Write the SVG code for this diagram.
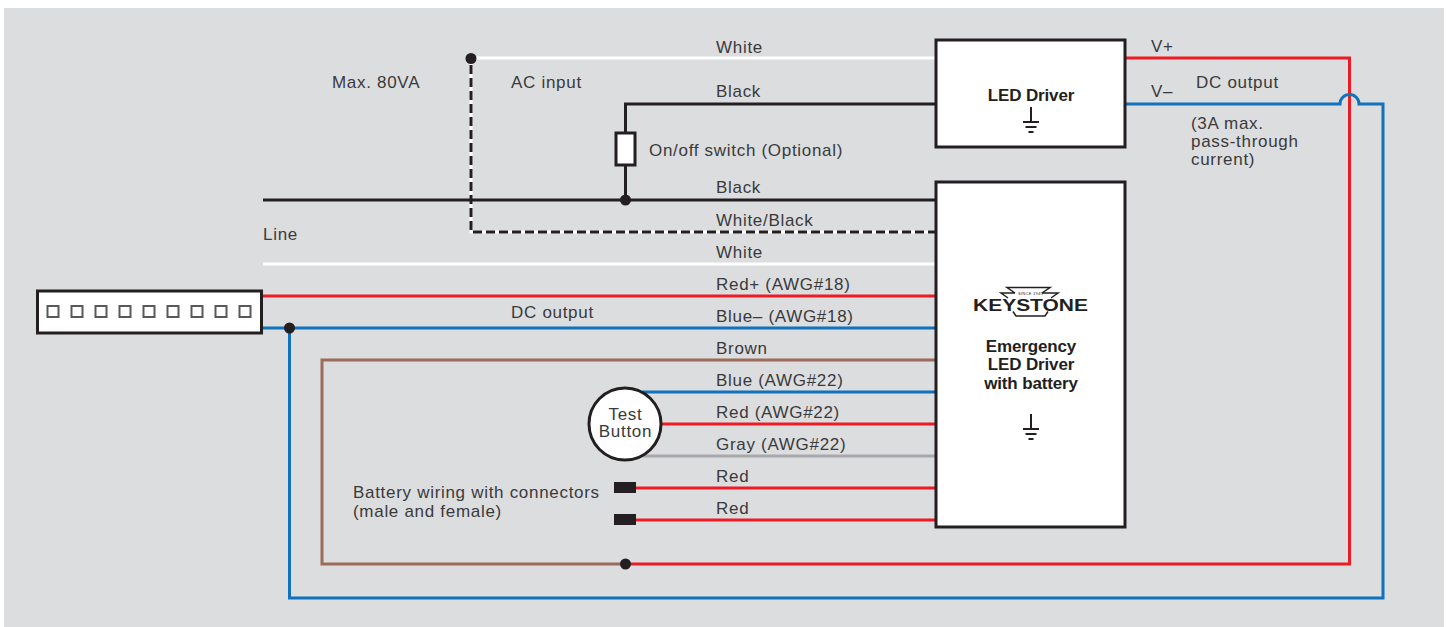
<svg xmlns="http://www.w3.org/2000/svg" width="1447" height="627" viewBox="0 0 1447 627">
<style>
text{font-family:"Liberation Sans",Arial,sans-serif;font-size:17px;fill:#3a3a3c;letter-spacing:.7px}
.b{font-weight:bold;fill:#231f20;letter-spacing:-.15px}
.m{text-anchor:middle}
.w{fill:none;stroke-width:3}
.blk{stroke:#231f20}.wht{stroke:#fff}.red{stroke:#ed1c24}.blu{stroke:#0f72ba}.brn{stroke:#9c6b5a}.gry{stroke:#a7a9ac}
.box{fill:#fff;stroke:#231f20;stroke-width:3}
.dot{fill:#231f20}
.gnd{fill:none;stroke:#231f20;stroke-width:2}
</style>
<defs>
<g id="ground" class="gnd"><path d="M0-11V4M-8 4H8M-5.500 9H5.500M-2.500 14H2.500"/></g>
</defs>
<rect x="4" y="8" width="1440" height="619" fill="#dcddde"/>
<g id="connectors">
<path class="w wht" d="M471 58H936"/>
<path class="w wht" d="M471 58V232H936"/>
<path class="w blk" stroke-dasharray="9 4" d="M471 65V232H936"/>
<path class="w blk" d="M936 104H625.500V133"/>
<path class="w blk" d="M625.500 165V200"/>
<path class="w blk" d="M263 200H936"/>
<path class="w wht" d="M263 264H936"/>
<path class="w red" d="M262 296H936"/>
<path class="w blu" d="M262 328H936"/>
<path class="w brn" d="M936 360H322V564H626"/>
<path class="w blu" d="M642 392H936"/>
<path class="w red" d="M662 424H936"/>
<path class="w gry" d="M642 456H936"/>
<path class="w red" d="M636 488H936"/>
<path class="w red" d="M636 520H936"/>
<path class="w red" d="M626 564H1349.500V58H1126"/>
<path class="w blu" d="M1126 104H1340A9.500 9.500 0 0 1 1359 104H1383V598H289.500V328"/>
<circle class="dot" cx="471" cy="58.500" r="5.500"/>
<circle class="dot" cx="625.500" cy="200" r="5.500"/>
<circle class="dot" cx="289.500" cy="328" r="5.500"/>
<circle class="dot" cx="625.500" cy="564" r="5.500"/>
</g>
<g id="led-driver">
<rect class="box" x="936" y="40" width="189" height="107"/>
<text class="b m" x="1031" y="100.500">LED Driver</text>
<use href="#ground" x="1031" y="118"/>
</g>
<g id="emergency-driver">
<rect class="box" x="936" y="182" width="189" height="345"/>
<text class="b m" x="1031" y="352">Emergency</text>
<text class="b m" x="1031" y="370">LED Driver</text>
<text class="b m" x="1031" y="389">with battery</text>
<use href="#ground" x="1031" y="425"/>
<path fill="none" stroke="#231f20" stroke-width="1.500" d="M1015 293L1007 287.500H1050L1042 293M1015 293H1001L1008 298M1042 293H1058L1051 298M1013 311.500L1016 316H1045L1048 311.500"/>
<text x="1030.500" y="295" text-anchor="middle" style="font-size:4px;letter-spacing:.3px;fill:#231f20">SINCE 1945</text>
<text x="1030.500" y="311" text-anchor="middle" style="font-size:16.500px;font-weight:bold;letter-spacing:0;fill:#231f20" textLength="115" lengthAdjust="spacingAndGlyphs">KEYSTONE</text>
</g>
<g id="connector-block">
<rect class="box" x="37.500" y="291" width="224" height="42"/>
<g fill="#fff" stroke="#58595b" stroke-width="2">
<rect x="47.500" y="306" width="11" height="11"/>
<rect x="71.500" y="306" width="11" height="11"/>
<rect x="95.500" y="306" width="11" height="11"/>
<rect x="119.500" y="306" width="11" height="11"/>
<rect x="143.500" y="306" width="11" height="11"/>
<rect x="167.500" y="306" width="11" height="11"/>
<rect x="191.500" y="306" width="11" height="11"/>
<rect x="215.500" y="306" width="11" height="11"/>
<rect x="239.500" y="306" width="11" height="11"/>
</g>
</g>
<g id="switch"><rect class="box" x="616" y="133" width="19" height="32"/></g>
<g id="test-button">
<circle cx="625" cy="424" r="36" fill="#fff" stroke="#231f20" stroke-width="3"/>
<text class="m" x="625.500" y="420">Test</text>
<text class="m" x="625.500" y="437">Button</text>
</g>
<g id="battery-connectors">
<rect x="614" y="482" width="22" height="11" fill="#231f20"/>
<rect x="614" y="514" width="22" height="11" fill="#231f20"/>
</g>
<g id="labels">
<text x="716" y="52.500">White</text>
<text x="716" y="96.500">Black</text>
<text x="716" y="192.500">Black</text>
<text x="716" y="225.500">White/Black</text>
<text x="716" y="257.500">White</text>
<text x="716" y="289.500">Red+ (AWG#18)</text>
<text x="716" y="321.500">Blue– (AWG#18)</text>
<text x="716" y="353.500">Brown</text>
<text x="716" y="385.500">Blue (AWG#22)</text>
<text x="716" y="417.500">Red (AWG#22)</text>
<text x="716" y="449.500">Gray (AWG#22)</text>
<text x="716" y="481.500">Red</text>
<text x="716" y="513.500">Red</text>
<text x="332" y="87.500">Max. 80VA</text>
<text x="511" y="87.500">AC input</text>
<text x="649" y="155.500">On/off switch (Optional)</text>
<text x="263" y="239.500">Line</text>
<text x="511" y="318">DC output</text>
<text x="353" y="497.500">Battery wiring with connectors</text>
<text x="353" y="516.500">(male and female)</text>
<text x="1151" y="52">V+</text>
<text x="1151" y="97">V–</text>
<text x="1196" y="88">DC output</text>
<text x="1191" y="129">(3A max.</text>
<text x="1191" y="147">pass-through</text>
<text x="1191" y="165">current)</text>
</g>
</svg>
